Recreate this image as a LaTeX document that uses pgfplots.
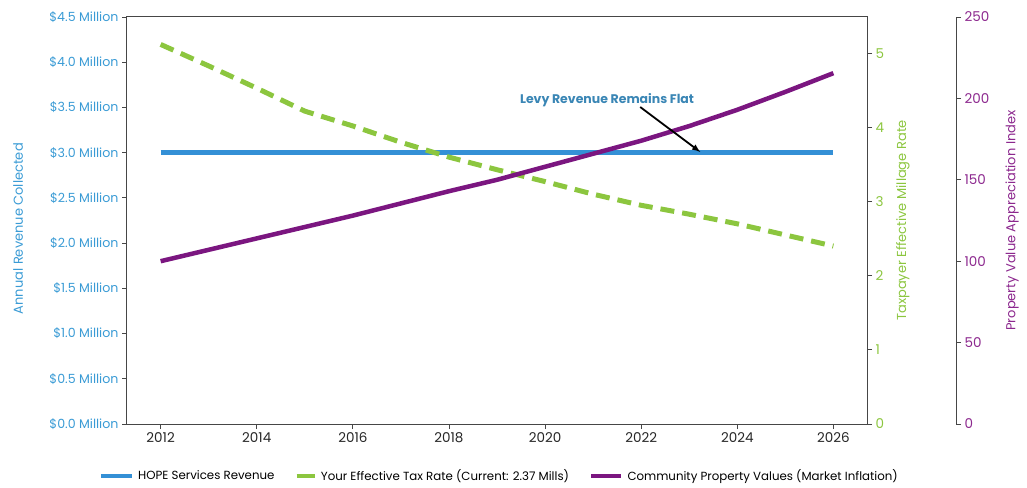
\documentclass[border=0pt]{standalone}
\usepackage{fontspec}
\setmainfont{Poppins}
\usepackage{pgfplots}
\pgfplotsset{compat=1.18}

\definecolor{hopeblue}{RGB}{52,144,214}
\definecolor{bluetxt}{RGB}{58,155,213}
\definecolor{taxgreen}{RGB}{140,198,63}
\definecolor{propurple}{RGB}{123,22,128}
\definecolor{purpletxt}{RGB}{140,40,142}
\definecolor{spine}{RGB}{70,70,70}
\definecolor{annot}{RGB}{58,134,181}

\pgfplotsset{
  base/.style={
    at={(0pt,0pt)}, anchor=south west,
    scale only axis, width=740pt, height=407pt,
    xmin=2011.3, xmax=2026.7,
    tick align=outside,
    major tick length=5pt,
    every tick/.style={spine, line width=0.8pt},
    axis line style={spine, line width=1pt},
    tick label style={font=\fontsize{13.5}{15}\selectfont},
    label style={font=\fontsize{13}{15}\selectfont},
    /pgf/number format/assume math mode=true,
  },
}

\begin{document}
\begin{tikzpicture}
\useasboundingbox (-127pt,-63pt) rectangle (900pt,424pt);

% left axis: revenue
\begin{axis}[base,
    ymin=0, ymax=4.5,
    xtick={2012,2014,...,2026},
    xticklabel style={text=black!85, /pgf/number format/1000 sep={}},
    ytick={0,0.5,...,4.5},
    yticklabels={\$0.0 Million,\$0.5 Million,\$1.0 Million,\$1.5 Million,\$2.0 Million,\$2.5 Million,\$3.0 Million,\$3.5 Million,\$4.0 Million,\$4.5 Million},
    yticklabel style={text=bluetxt, font=\fontsize{12.6}{14}\selectfont},
    xtick pos=bottom, ytick pos=left,
    ylabel={Annual Revenue Collected},
    ylabel style={text=bluetxt, at={(rel axis cs:-0.147,0.48)}, anchor=center},
    legend columns=3,
    legend style={draw=none, fill=none, at={(0.503,-0.128)}, anchor=center,
      font=\fontsize{11.8}{13}\selectfont,
      /tikz/every odd column/.append style={column sep=2pt},
      /tikz/every even column/.append style={column sep=18pt}},
    legend cell align=left,
  ]
  \addplot[hopeblue, line width=5pt,
    legend image code/.code={\draw[hopeblue, line width=4.5pt] (0pt,0pt) -- (31pt,0pt);}] coordinates {
    (2012,3.0) (2014,3.0) (2016,3.0) (2018,3.0) (2020,3.0) (2022,3.0) (2024,3.0) (2026,3.0)
  };
  \addlegendentry{HOPE Services Revenue}
  \addlegendimage{legend image code/.code={\draw[taxgreen, line width=4.5pt] (0pt,0pt) -- (18pt,0pt);}}
  \addlegendentry{Your Effective Tax Rate (Current: 2.37 Mills)}
  \addlegendimage{legend image code/.code={\draw[propurple, line width=4.5pt] (0pt,0pt) -- (30pt,0pt);}}
  \addlegendentry{Community Property Values (Market Inflation)}
\end{axis}

% right axis: millage rate
\begin{axis}[base,
    ymin=0, ymax=5.49,
    axis x line=none,
    axis y line*=right,
    ytick={0,1,...,5},
    yticklabel style={text=taxgreen},
    ylabel={Taxpayer Effective Millage Rate},
    ylabel style={text=taxgreen, at={(rel axis cs:1.0486,0.5)}, anchor=center},
  ]
  \addplot[taxgreen, line width=5pt, dash pattern=on 14pt off 8pt] coordinates {
    (2012,5.12) (2013,4.83) (2014,4.53) (2015,4.22) (2016,4.02) (2017,3.80)
    (2018,3.60) (2019,3.43) (2020,3.27) (2021,3.10) (2022,2.95) (2023,2.83)
    (2024,2.70) (2025,2.55) (2026,2.40)
  };
\end{axis}

% outer right axis: property value index
\begin{axis}[base,
    width=829pt, xmax=2028.552,
    ymin=0, ymax=250,
    axis x line=none,
    axis y line*=right,
    ytick={0,50,...,250},
    yticklabel style={text=purpletxt},
    ylabel={Property Value Appreciation Index},
    ylabel style={text=purpletxt, at={(rel axis cs:1.0676,0.5)}, anchor=center},
  ]
  \addplot[propurple, line width=4.5pt] coordinates {
    (2012,100) (2013,107) (2014,114) (2015,121) (2016,128) (2017,135.5)
    (2018,143) (2019,150) (2020,158) (2021,166) (2022,174) (2023,183)
    (2024,193) (2025,204) (2026,215.5)
  };
  \draw[black, line width=1.8pt, -latex] (axis cs:2021.98,194.7) -- (axis cs:2023.23,167.1);
  \node[font=\bfseries\fontsize{12.5}{14}\selectfont, text=annot] at (axis cs:2021.29,199) {Levy Revenue Remains Flat};
\end{axis}
\end{tikzpicture}
\end{document}
